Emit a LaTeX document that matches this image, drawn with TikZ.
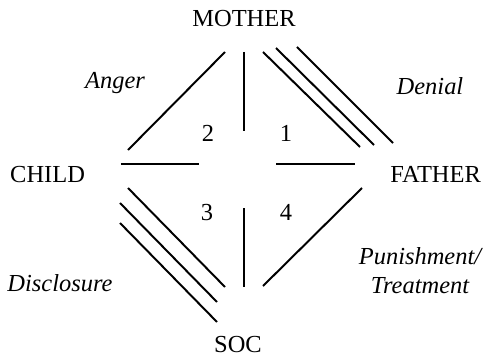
\documentclass[tikz,border=0pt]{standalone}
\usepackage{fontspec}
\setmainfont{Liberation Serif}
\usetikzlibrary{positioning}

\begin{document}
\begin{tikzpicture}[
    every node/.style={font=\fontsize{17.4}{20.6}\selectfont, inner sep=0pt, anchor=base},
    role/.style={},
    issue/.style={font=\fontsize{17.4}{20.6}\selectfont\itshape},
    tie/.style={line width=1.4pt}
  ]
  \useasboundingbox (-6.1, -4.85) rectangle (6.0, 4.1);
  % Roles
  \node[role] (mother) at ( 0.0,   3.425) {MOTHER};
  \node[role] (child)  at (-4.91, -0.45)  {CHILD};
  \node[role] (father) at ( 4.79, -0.45)  {FATHER};
  \node[role] (soc)    at (-0.15, -4.7)   {SOC};
  % Issues
  \node[issue] (anger)      at (-3.225,  1.875) {Anger};
  \node[issue] (denial)     at ( 4.65,   1.725) {Denial};
  \node[issue] (disclosure) at (-4.6,   -3.19)  {Disclosure};
  \node[issue, align=center, anchor=north] (punish) at (4.4, -2.07)
    {Punishment/\\Treatment};
  % Quadrants
  \node (q2) at (-0.9,  0.55) {2};
  \node (q1) at ( 1.05, 0.55) {1};
  \node (q3) at (-0.925, -1.42) {3};
  \node (q4) at ( 1.05, -1.42) {4};
  % Mother -- Child
  \draw[tie] (-0.475, 2.8) -- (-2.9, 0.35);
  % Mother -- Father
  \draw[tie] (0.475, 2.8) -- (2.9, 0.425);
  \draw[tie] (0.8,   2.9) -- (3.25, 0.475);
  \draw[tie] (1.325, 2.925) -- (3.725, 0.525);
  % Child -- Soc
  \draw[tie] (-2.9, -0.6)  -- (-0.475, -3.075);
  \draw[tie] (-3.1, -0.975) -- (-0.675, -3.45);
  \draw[tie] (-3.1, -1.475) -- (-0.675, -3.95);
  % Father -- Soc
  \draw[tie] (0.475, -3.05) -- (2.95, -0.6);
  % Cross
  \draw[tie] (0, 2.8)  -- (0, 0.825);
  \draw[tie] (0, -1.1) -- (0, -3.075);
  \draw[tie] (-3.075, 0) -- (-1.125, 0);
  \draw[tie] (0.8, 0) -- (2.775, 0);
\end{tikzpicture}
\end{document}
